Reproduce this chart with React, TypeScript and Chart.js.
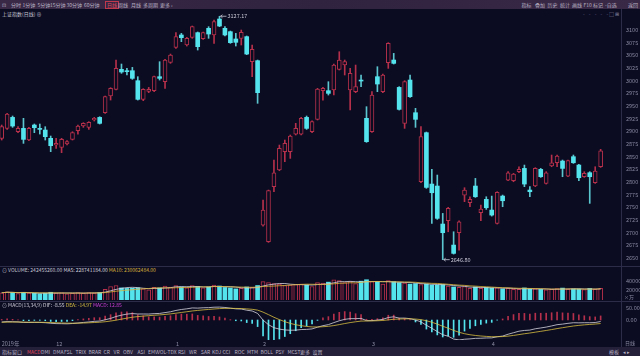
import React, { useEffect, useRef } from "react";
import { Chart, registerables } from "chart.js";

Chart.register(...registerables);

// ---------- data (上证指数 日线, 2019-11-18 .. 2020-04-30) ----------
const opens = [
  2886.2, 2905.9, 2927.6, 2899.3, 2905.9, 2882.9, 2912.5, 2905.9, 2902.6, 2886.2,
  2873.0, 2868.4, 2875.0, 2884.2, 2901.3, 2910.5, 2907.9, 2922.4, 2927.6, 2936.8,
  2969.7, 2982.9, 3022.4, 3019.1, 3019.7, 3000.0, 2963.2, 2979.0, 2980.3, 3007.9,
  2998.0, 3036.2, 3065.8, 3090.2, 3070.4, 3085.5, 3094.8, 3082.9, 3103.3, 3090.2,
  3121.7, 3103.3, 3096.7, 3082.3, 3083.6, 3086.9, 3037.5, 3039.5, 2715.1, 2682.2,
  2790.8, 2823.7, 2859.9, 2859.9, 2894.7, 2894.7, 2927.6, 2899.3, 2923.7, 2980.3,
  2980.3, 2981.6, 3022.4, 3030.9, 2981.6, 2978.3, 3001.3, 2925.7, 2899.3, 3007.9,
  2978.3, 3035.5, 3040.8, 2986.8, 2915.8, 3001.3, 2936.8, 2800.6, 2897.4, 2796.0,
  2792.1, 2717.1, 2723.6, 2675.6, 2700.0, 2774.3, 2759.2, 2792.1, 2739.4, 2765.8,
  2744.7, 2718.4, 2772.3, 2803.9, 2802.6, 2820.4, 2826.9, 2784.2, 2792.1, 2825.0,
  2797.3, 2831.6, 2838.1, 2841.4, 2811.8, 2850.0, 2833.5, 2810.5, 2818.4, 2798.7,
  2830.2,
];
const highs = [
  2912.5, 2935.5, 2930.3, 2909.2, 2925.7, 2907.9, 2914.5, 2914.5, 2909.2, 2890.8,
  2886.2, 2886.2, 2881.6, 2899.3, 2912.5, 2917.1, 2919.1, 2927.6, 2928.9, 2969.7,
  2986.2, 3040.8, 3032.9, 3024.3, 3026.3, 3007.9, 2984.2, 2986.8, 3009.2, 3037.5,
  3042.1, 3052.6, 3094.8, 3093.4, 3085.5, 3107.9, 3096.1, 3096.1, 3106.6, 3119.8,
  3127.17, 3106.6, 3098.0, 3093.4, 3100.0, 3088.2, 3070.4, 3040.8, 2764.4, 2784.2,
  2843.4, 2873.0, 2882.9, 2892.8, 2915.8, 2927.6, 2930.3, 2921.0, 2984.9, 2986.8,
  2998.0, 3032.9, 3057.2, 3040.8, 3024.3, 3030.9, 3011.2, 2948.7, 2978.3, 3027.6,
  3013.2, 3075.0, 3053.9, 2988.2, 3000.0, 3011.2, 2945.4, 2909.2, 2898.7, 2825.0,
  2813.8, 2738.1, 2750.0, 2701.9, 2723.6, 2788.8, 2771.0, 2807.2, 2754.6, 2771.0,
  2772.3, 2780.9, 2774.3, 2820.4, 2817.1, 2830.2, 2833.5, 2790.8, 2828.3, 2826.9,
  2820.4, 2853.3, 2853.3, 2843.4, 2843.4, 2853.3, 2834.8, 2820.4, 2820.4, 2830.2,
  2864.5,
];
const lows = [
  2882.9, 2903.9, 2907.9, 2897.4, 2876.3, 2881.6, 2897.4, 2894.7, 2882.9, 2859.9,
  2866.4, 2857.9, 2873.0, 2882.9, 2894.7, 2907.9, 2903.9, 2920.4, 2914.5, 2935.5,
  2961.8, 2981.6, 3014.5, 3011.2, 3002.6, 2961.8, 2960.5, 2976.3, 2978.3, 3001.3,
  2984.9, 3034.2, 3063.8, 3077.0, 3068.4, 3083.6, 3060.5, 3081.6, 3083.6, 3073.7,
  3106.6, 3088.2, 3073.7, 3068.4, 3070.4, 3051.3, 3007.9, 2955.3, 2713.1, 2680.9,
  2780.9, 2822.3, 2840.1, 2846.7, 2892.8, 2892.8, 2903.9, 2897.4, 2922.4, 2961.8,
  2971.7, 2971.7, 3021.1, 3011.2, 2942.1, 2976.3, 2988.2, 2878.3, 2898.0, 2978.3,
  2976.3, 3024.3, 3032.9, 2942.1, 2905.9, 2967.1, 2907.9, 2798.7, 2787.5, 2718.4,
  2726.3, 2646.8, 2701.9, 2657.8, 2665.7, 2761.2, 2751.3, 2769.7, 2723.6, 2746.0,
  2732.8, 2717.1, 2751.3, 2802.6, 2800.6, 2818.4, 2790.8, 2771.0, 2790.8, 2809.2,
  2796.0, 2830.2, 2830.2, 2810.5, 2810.5, 2836.8, 2802.6, 2809.2, 2757.9, 2797.3,
  2828.9,
];
const closes = [
  2909.2, 2934.2, 2910.5, 2905.9, 2884.2, 2905.9, 2907.2, 2903.9, 2889.5, 2871.7,
  2876.3, 2884.2, 2879.6, 2897.4, 2910.5, 2915.8, 2917.8, 2925.7, 2915.8, 2968.4,
  2984.9, 3024.3, 3017.1, 3017.8, 3004.6, 2963.2, 2982.9, 2982.9, 3007.9, 3004.6,
  3040.8, 3050.7, 3086.9, 3084.9, 3083.6, 3106.6, 3067.1, 3094.8, 3092.1, 3116.5,
  3107.9, 3090.2, 3075.0, 3075.7, 3095.4, 3052.6, 3061.9, 2976.3, 2744.7, 2782.9,
  2818.4, 2866.4, 2876.3, 2890.8, 2905.9, 2925.7, 2905.9, 2919.1, 2983.6, 2984.9,
  2975.0, 3030.9, 3040.8, 3037.5, 3014.5, 2988.2, 2999.3, 2879.6, 2971.7, 2993.4,
  3011.2, 3073.7, 3034.2, 2943.4, 2998.0, 2968.4, 2923.7, 2889.5, 2789.4, 2778.9,
  2728.3, 2700.0, 2748.0, 2659.2, 2721.7, 2784.2, 2765.8, 2771.0, 2746.7, 2749.3,
  2734.8, 2779.6, 2763.1, 2818.4, 2815.8, 2825.0, 2796.0, 2780.9, 2826.9, 2810.5,
  2818.4, 2838.1, 2851.3, 2826.9, 2842.1, 2838.1, 2808.5, 2817.1, 2810.5, 2821.7,
  2861.8,
];
// volume, unit: 万
const volumes = [
  15000, 17000, 15500, 13500, 16000, 14500, 14000, 13000, 14000, 16000,
  14500, 15000, 13000, 14000, 15500, 14000, 15500, 14500, 15300, 22000,
  28000, 30000, 25000, 24000, 24500, 25000, 23000, 21000, 26000, 25000,
  29000, 27000, 30000, 27000, 25000, 30000, 28000, 25000, 27000, 31000,
  29000, 26000, 25000, 23000, 24000, 27000, 26000, 30000, 38000, 36000,
  34000, 33000, 30000, 31000, 32000, 33000, 31000, 28000, 36000, 35000,
  37000, 42000, 40000, 36000, 38000, 34000, 39000, 42000, 38000, 38000,
  33000, 40000, 38000, 36000, 35000, 33000, 34000, 32000, 33000, 31000,
  31000, 32000, 29000, 27000, 26000, 28000, 24000, 27000, 24000, 26000,
  25000, 25000, 23000, 24000, 22000, 22000, 25000, 23000, 23000, 22000,
  21000, 22000, 23500, 24692, 22500, 23000, 22500, 21500, 24000, 22124,
  24246,
];
const monthTickIndex = [0, 10, 32, 48, 68, 90];
const monthTickLabels = ["2019年", "12", "1", "2", "3", "4"];
const priceTicks = [
  2650, 2675, 2700, 2725, 2750, 2775, 2800, 2825, 2850, 2875,
  2900, 2925, 2950, 2975, 3000, 3025, 3050, 3075, 3100,
];
const volumeTicks = [20000, 40000];
const macdTicks = [0, 50];
const macdParams = { fast: 13, slow: 34, signal: 9 };
const macdSeed = { emaFast: 2921, emaSlow: 2929, dea: -10 };

// ---------- style ----------
const BG = "#0b0b22";
const RED = "#b5304a";
const CYAN = "#54e4ee";
const CYAN_WICK = "#5cc6cf";
const AXIS_TXT = "#8a8aa2";
const LINE_COL = "#2c2c48";
const FONT = '"Noto Sans CJK SC", "Noto Sans", sans-serif';
const X_MIN = -0.31;
const X_MAX = 113.74;
const PLOT_RIGHT = 621;

const idx = closes.map((_, i) => i);
const up = closes.map((c, i) => c >= opens[i]);

function movingAvg(arr: number[], n: number) {
  return arr.map((_, i) => {
    const s = Math.max(0, i - n + 1);
    let sum = 0;
    for (let j = s; j <= i; j++) sum += arr[j];
    return sum / (i - s + 1);
  });
}

function computeMacd() {
  let ef = macdSeed.emaFast;
  let es = macdSeed.emaSlow;
  let dea = macdSeed.dea;
  const dif: number[] = [];
  const deaArr: number[] = [];
  const hist: number[] = [];
  closes.forEach((c) => {
    ef = ef + ((c - ef) * 2) / (macdParams.fast + 1);
    es = es + ((c - es) * 2) / (macdParams.slow + 1);
    const d = ef - es;
    dea = dea + ((d - dea) * 2) / (macdParams.signal + 1);
    dif.push(d);
    deaArr.push(dea);
    hist.push(2 * (d - dea));
  });
  return { dif, dea: deaArr, hist };
}

function xAxis(show: boolean): any {
  const base: any = {
    type: "linear",
    min: X_MIN,
    max: X_MAX,
    offset: false,
    bounds: "data",
    grid: { display: false, drawTicks: false, offset: false },
    border: { display: false },
  };
  if (!show) return { ...base, display: false };
  return {
    ...base,
    position: "bottom",
    afterBuildTicks: (s: any) => {
      s.ticks = monthTickIndex.map((v) => ({ value: v }));
    },
    afterFit: (s: any) => {
      s.height = 8;
      s.paddingLeft = 0;
      s.paddingRight = 0;
    },
    ticks: {
      align: "start",
      padding: 1,
      maxRotation: 0,
      autoSkip: false,
      color: AXIS_TXT,
      font: { size: 5.5, family: FONT },
      callback: (_v: any, i: number) => monthTickLabels[i],
    },
  };
}

function yAxis(min: number, max: number, ticks: number[], fmt: (v: number) => string): any {
  return {
    type: "linear",
    position: "right",
    min,
    max,
    afterBuildTicks: (s: any) => {
      s.ticks = ticks.map((v) => ({ value: v }));
    },
    afterFit: (s: any) => {
      s.width = 640 - PLOT_RIGHT;
      s.paddingTop = 0;
      s.paddingBottom = 0;
    },
    grid: { display: false, drawTicks: false },
    border: { display: false },
    ticks: {
      padding: 5,
      color: AXIS_TXT,
      font: { size: 5.5, family: FONT },
      callback: (v: any) => fmt(Number(v)),
    },
  };
}

const baseOptions: any = {
  responsive: false,
  animation: false,
  devicePixelRatio: 1,
  layout: { padding: 0 },
  plugins: { legend: { display: false }, tooltip: { enabled: false } },
  events: [],
};

const extremesPlugin = {
  id: "extremes",
  afterDatasetsDraw(chart: any) {
    const xs = chart.scales.x;
    const ys = chart.scales.y;
    const ctx = chart.ctx;
    const hiVal = Math.max(...highs);
    const loVal = Math.min(...lows);
    const marks: [number, number][] = [
      [highs.indexOf(hiVal), hiVal],
      [lows.indexOf(loVal), loVal],
    ];
    ctx.save();
    ctx.font = `5.5px ${FONT}`;
    ctx.fillStyle = "#c9c9d6";
    ctx.strokeStyle = "#c9c9d6";
    ctx.lineWidth = 0.8;
    ctx.textBaseline = "middle";
    marks.forEach(([i, v]) => {
      const px = xs.getPixelForValue(i) + 1;
      const py = ys.getPixelForValue(v);
      ctx.beginPath();
      ctx.moveTo(px, py);
      ctx.lineTo(px + 6, py);
      ctx.moveTo(px + 2, py - 1.5);
      ctx.lineTo(px, py);
      ctx.lineTo(px + 2, py + 1.5);
      ctx.stroke();
      ctx.fillText(v.toFixed(2), px + 7, py);
    });
    ctx.restore();
  },
};

function priceConfig(): any {
  return {
    type: "bar",
    data: {
      datasets: [
        {
          label: "wick",
          data: idx.map((i) => ({ x: i, y: [lows[i], highs[i]] })),
          backgroundColor: idx.map((i) => (up[i] ? RED : CYAN_WICK)),
          barThickness: 1,
          grouped: false,
          order: 2,
        },
        {
          label: "body",
          data: idx.map((i) => ({ x: i, y: [opens[i], closes[i]] })),
          backgroundColor: idx.map((i) => (up[i] ? BG : CYAN)),
          borderColor: idx.map((i) => (up[i] ? RED : CYAN)),
          borderWidth: idx.map((i) => (up[i] ? 1 : 0)),
          borderSkipped: false,
          barThickness: 4,
          minBarLength: 1,
          grouped: false,
          order: 1,
        },
      ],
    },
    options: {
      ...baseOptions,
      scales: {
        x: xAxis(false),
        y: yAxis(2634.3, 3139.5, priceTicks, (v) => String(v)),
      },
    },
    plugins: [extremesPlugin],
  };
}

function volumeConfig(): any {
  const ma5 = movingAvg(volumes, 5);
  const ma10 = movingAvg(volumes, 10);
  return {
    type: "bar",
    data: {
      datasets: [
        {
          label: "VOLUME",
          data: idx.map((i) => ({ x: i, y: volumes[i] })),
          backgroundColor: idx.map((i) => (up[i] ? BG : CYAN)),
          borderColor: idx.map((i) => (up[i] ? RED : CYAN)),
          borderWidth: idx.map((i) => (up[i] ? 1 : 0)),
          borderSkipped: "start",
          barThickness: 4,
          grouped: false,
          order: 2,
        },
        {
          type: "line",
          label: "MA5",
          data: idx.map((i) => ({ x: i, y: ma5[i] })),
          borderColor: "#d6d6de",
          borderWidth: 0.8,
          pointRadius: 0,
          order: 1,
        },
        {
          type: "line",
          label: "MA10",
          data: idx.map((i) => ({ x: i, y: ma10[i] })),
          borderColor: "#d9b43a",
          borderWidth: 0.8,
          pointRadius: 0,
          order: 0,
        },
      ],
    },
    options: {
      ...baseOptions,
      scales: {
        x: xAxis(false),
        y: yAxis(0, 49740, volumeTicks, (v) => String(v)),
      },
    },
  };
}

function macdConfig(): any {
  const m = computeMacd();
  return {
    type: "bar",
    data: {
      datasets: [
        {
          label: "MACD",
          data: idx.map((i) => ({ x: i, y: m.hist[i] })),
          backgroundColor: idx.map((i) => (m.hist[i] >= 0 ? RED : CYAN)),
          barThickness: 1,
          grouped: false,
          order: 2,
        },
        {
          type: "line",
          label: "DIF",
          data: idx.map((i) => ({ x: i, y: m.dif[i] })),
          borderColor: "#d6d6e0",
          borderWidth: 0.8,
          pointRadius: 0,
          order: 1,
        },
        {
          type: "line",
          label: "DEA",
          data: idx.map((i) => ({ x: i, y: m.dea[i] })),
          borderColor: "#d9c040",
          borderWidth: 0.8,
          pointRadius: 0,
          order: 0,
        },
      ],
    },
    options: {
      ...baseOptions,
      scales: {
        x: xAxis(true),
        y: yAxis(-85.5, 64.1, macdTicks, (v) => v.toFixed(2)),
      },
    },
  };
}

const txt = (extra: React.CSSProperties = {}): React.CSSProperties => ({
  position: "absolute",
  fontSize: 5,
  lineHeight: "6px",
  whiteSpace: "nowrap",
  fontFamily: FONT,
  ...extra,
});

const topLeftItems: [string, number][] = [
  ["⊡", 2], ["分时", 11], ["1分钟", 22.5], ["5分钟", 37.5], ["15分钟", 50], ["30分钟", 66.5],
  ["60分钟", 84], ["日线", 106], ["周线", 118], ["月线", 131], ["多周期", 143], ["更多 ›", 160],
];
const topRightItems: [string, number][] = [
  ["指标", 521.5], ["叠加", 535], ["历史", 547.5], ["统计", 560], ["画线", 572],
  ["F10", 583.5], ["标记", 593], ["-自选", 605], ["返回", 628],
];
const bottomItems: [string, number][] = [
  ["指标", 2], ["窗口", 12], ["MACD", 27], ["DMI", 41], ["DMA", 53], ["FSL", 64], ["TRIX", 75.5],
  ["BRAR", 88.5], ["CR", 103.5], ["VR", 113.5], ["OBV", 123], ["ASI", 137.5], ["EMV", 148],
  ["VOL-TDX", 157], ["RSI", 178], ["WR", 189], ["SAR", 201], ["KDJ", 212], ["CCI", 222.5],
  ["ROC", 234.5], ["MTM", 247], ["BOLL", 260.5], ["PSY", 275.5], ["MCST", 287.5], ["更多", 300], ["设置", 312.5],
];

export default function App() {
  const priceRef = useRef<HTMLCanvasElement>(null);
  const volRef = useRef<HTMLCanvasElement>(null);
  const macdRef = useRef<HTMLCanvasElement>(null);

  useEffect(() => {
    document.body.style.margin = "0";
    document.body.style.background = BG;
    const charts: Chart[] = [];
    if (priceRef.current) charts.push(new Chart(priceRef.current, priceConfig()));
    if (volRef.current) charts.push(new Chart(volRef.current, volumeConfig()));
    if (macdRef.current) charts.push(new Chart(macdRef.current, macdConfig()));
    return () => charts.forEach((c) => c.destroy());
  }, []);

  const canvasStyle = (top: number, h: number): React.CSSProperties => ({
    position: "absolute",
    left: 0,
    top,
    width: 640,
    height: h,
  });

  return (
    <div
      style={{
        position: "fixed",
        left: 0,
        top: 0,
        width: 640,
        height: 356,
        background: BG,
        overflow: "hidden",
        fontFamily: FONT,
        color: "#c8c8d4",
      }}
    >
      {/* top toolbar */}
      <div
        style={{
          position: "absolute",
          left: 0,
          top: 0,
          width: 640,
          height: 9,
          background: "linear-gradient(90deg, #3a2946 0%, #2f2340 50%, #3a2946 100%)",
        }}
      />
      {topLeftItems.map(([t, x]) => (
        <span
          key={"tl" + t}
          style={txt({
            left: x,
            top: 1.5,
            color: t === "日线" ? "#e0485a" : "#b9b3c4",
            outline: t === "日线" ? "0.5px solid #c0384c" : undefined,
            padding: t === "日线" ? "0 1px" : undefined,
          })}
        >
          {t}
        </span>
      ))}
      {topRightItems.map(([t, x]) => (
        <span key={"tr" + t} style={txt({ left: x, top: 1.5, color: "#b9b3c4" })}>
          {t}
        </span>
      ))}
      <span style={txt({ left: 2, top: 11, color: "#c8c8d4" })}>上证指数(日线) ⊕</span>
      <span style={txt({ left: 583, top: 11, color: "#6a6a88", letterSpacing: 1.5 })}>- - - - -</span>
      <span style={txt({ left: 609, top: 11, color: "#8a8aa2" })}>□ ⊞</span>

      {/* price pane */}
      <canvas ref={priceRef} width={640} height={256} style={canvasStyle(10, 256)} />

      {/* separators */}
      <div style={{ position: "absolute", left: 0, top: 266, width: 640, height: 1, background: LINE_COL }} />
      <div style={{ position: "absolute", left: 0, top: 301, width: 640, height: 1, background: LINE_COL }} />
      <div style={{ position: "absolute", left: PLOT_RIGHT, top: 9, width: 1, height: 338, background: LINE_COL }} />

      {/* volume pane */}
      <span style={txt({ left: 2, top: 267, color: "#c8c8d4" })}>
        ⊙ VOLUME: 242455260.00{"  "}
        <span style={{ color: "#d6d6de" }}>MA5: 228741184.00</span>{"  "}
        <span style={{ color: "#d9b43a" }}>MA10: 230062484.00</span>
      </span>
      <canvas ref={volRef} width={640} height={24} style={canvasStyle(276, 24)} />
      <span style={txt({ left: 624, top: 294, color: AXIS_TXT })}>×万</span>

      {/* macd pane */}
      <span style={txt({ left: 2, top: 302, color: "#c8c8d4" })}>
        ⊙ MACD(13,34,9){"  "}
        <span style={{ color: "#d6d6e0" }}>DIF: -8.55</span>{"  "}
        <span style={{ color: "#d9c040" }}>DEA: -14.97</span>{"  "}
        <span style={{ color: "#d040d8" }}>MACD: 12.85</span>
      </span>
      <canvas ref={macdRef} width={640} height={43} style={canvasStyle(305, 43)} />
      <span style={txt({ left: 625, top: 340, color: AXIS_TXT })}>日线</span>

      {/* bottom tab bar */}
      <div
        style={{
          position: "absolute",
          left: 0,
          top: 347,
          width: 640,
          height: 9,
          background: "#25203a",
        }}
      />
      {bottomItems.map(([t, x]) => (
        <span
          key={"b" + t + x}
          style={txt({ left: x, top: 348.5, color: t === "MACD" ? "#e0485a" : "#b9b3c4" })}
        >
          {t}
        </span>
      ))}
      <span style={txt({ left: 609, top: 348.5, color: "#b9b3c4" })}>模板</span>
      <span style={txt({ left: 623, top: 348.5, color: "#b9b3c4" })}>◂ ▸</span>
    </div>
  );
}
